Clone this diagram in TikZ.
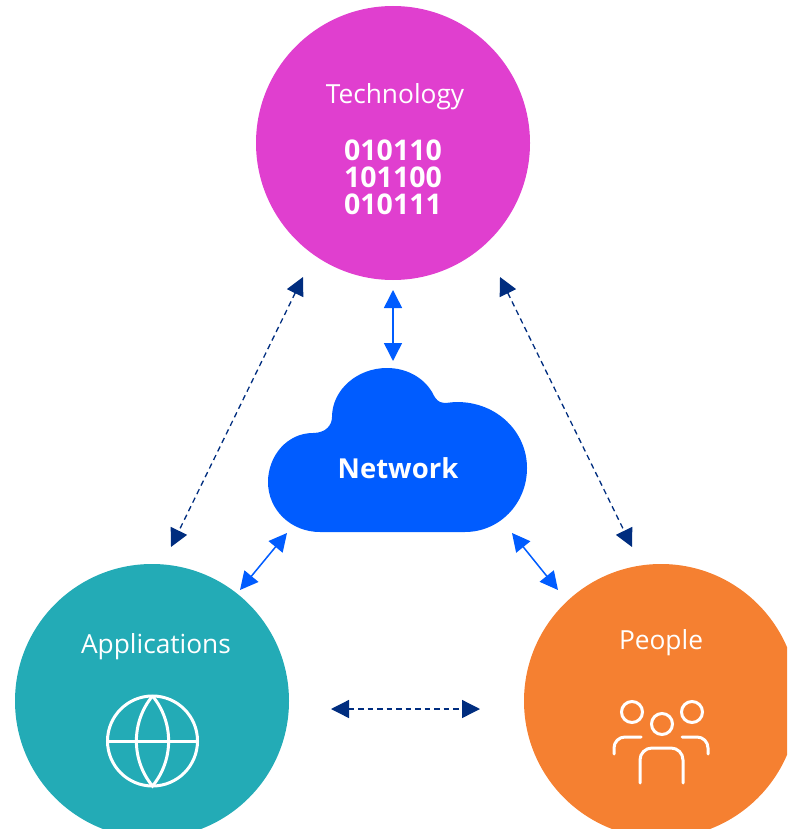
\documentclass[tikz,border=0pt]{standalone}
\usepackage{fontspec}
\setmainfont{Open Sans}
\usetikzlibrary{arrows.meta}
\definecolor{techcolor}{HTML}{E03FCF}
\definecolor{appcolor}{HTML}{23ABB6}
\definecolor{peoplecolor}{HTML}{F58031}
\definecolor{netcolor}{HTML}{005CFF}
\definecolor{linkcolor}{HTML}{002D7F}
\begin{document}
\begin{tikzpicture}[
		x=1pt,
		y=-1pt,
		sphere/.style={circle, minimum size=274pt, inner sep=0pt},
		label/.style={text=white, font=\fontsize{26.3}{30}\selectfont},
		bits/.style={text=white, align=center, font=\fontsize{28.5}{27}\selectfont\bfseries},
		icon/.style={draw=white, line width=3pt, line cap=round},
		netlink/.style={{Triangle[length=18pt,width=18pt]}-{Triangle[length=18pt,width=18pt]}, netcolor, line width=1.5pt},
		farlink/.style={{Triangle[length=18pt,width=18pt]}-{Triangle[length=18pt,width=18pt]}, linkcolor, line width=1.3pt, dash pattern=on 5.5pt off 4pt},
	]
		\clip (0,0) rectangle (787,829);

		\node (tech) [sphere, fill=techcolor] at (393,143) {};
		\node (app) [sphere, fill=appcolor] at (152,701) {};
		\node (people) [sphere, fill=peoplecolor] at (661,701) {};

		\fill[netcolor] (320,532) -- (465,532)
			.. controls (499,532) and (527,504) .. (527,468)
			.. controls (527,432) and (497,402) .. (457,402)
			.. controls (450,402) and (445,404) .. (440,402)
			.. controls (436,400) and (434,396) .. (432,392)
			.. controls (423,377) and (406,368) .. (387,368)
			.. controls (357,368) and (332,390) .. (332,417)
			.. controls (332,425) and (326,433) .. (313,433)
			.. controls (287,433) and (268,456) .. (268,482)
			.. controls (268,510) and (291,532) .. (320,532) -- cycle;

		\node (tech label) [label] at (395,97) {Technology};
		\node (tech bits) [bits] at (393,177) {010110\\101100\\010111};
		\node (net label) [label, font=\fontsize{27.5}{30}\selectfont\bfseries] at (398,468) {Network};
		\node (app label) [label] at (156,647) {Applications};
		\node (people label) [label] at (661,643) {People};

		\draw[icon] (152.5,741) circle (45);
		\draw[icon] (107.5,741) -- (197.5,741);
		\draw[icon] (152.5,696) .. controls (131,722) and (131,760) .. (152.5,786)
			.. controls (174,760) and (174,722) .. (152.5,696);

		\foreach \headx/\heady in {632/712, 692/712, 662/724}
			\draw[icon] (\headx,\heady) circle (10.5);
		\draw[icon, rounded corners=11pt] (614,754) -- (614,737) -- (641,737);
		\draw[icon, rounded corners=11pt] (708,754) -- (708,737) -- (682,737);
		\draw[icon, rounded corners=12pt] (640,783) -- (640,748) -- (683,748) -- (683,783);

		\coordinate (tech left) at (303,277);
		\coordinate (tech right) at (500,277);
		\coordinate (tech net) at (393,290);
		\coordinate (net tech) at (393,361);
		\coordinate (net left) at (287,533);
		\coordinate (net right) at (512,533);
		\coordinate (app top) at (171,547);
		\coordinate (app net) at (240,590);
		\coordinate (app right) at (331,709);
		\coordinate (people top) at (632,547);
		\coordinate (people net) at (558,590);
		\coordinate (people left) at (480,709);

		\draw[netlink] (tech net) -- (net tech);
		\draw[netlink] (net left) -- (app net);
		\draw[netlink] (net right) -- (people net);
		\draw[farlink] (tech left) -- (app top);
		\draw[farlink] (tech right) -- (people top);
		\draw[farlink] (app right) -- (people left);
	\end{tikzpicture}
\end{document}
